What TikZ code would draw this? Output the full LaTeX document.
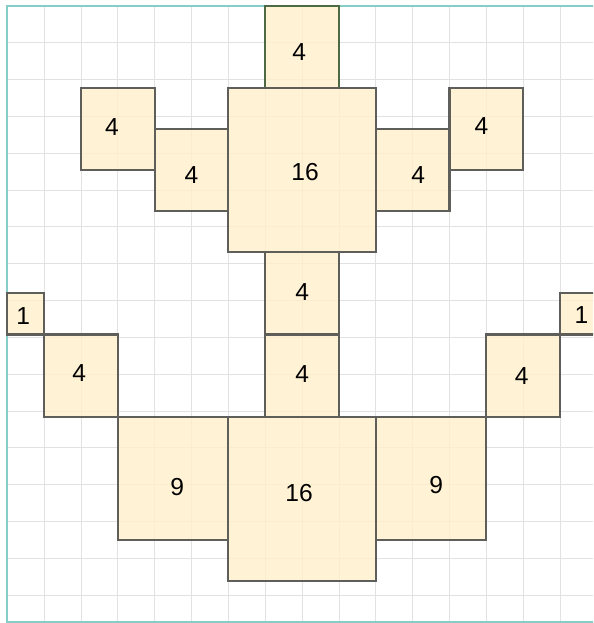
\documentclass[tikz,border=0pt]{standalone}
\usepackage{fontspec}
\setmainfont{Liberation Sans}
\definecolor{gridGray}{HTML}{E2E2E2}
\definecolor{frameTeal}{HTML}{86CCC7}
\definecolor{tileFill}{HTML}{FFEFCC}
\definecolor{tileEdge}{HTML}{5E5E5A}
\definecolor{tileGreen}{HTML}{4E6A45}
\tikzset{
  grid line/.style={draw=gridGray,line width=0.7pt},
  frame line/.style={draw=frameTeal,line width=1.4pt},
  tile/.style={fill=tileFill,fill opacity=0.82,draw=tileEdge,
    line width=1.6pt},
  tile label/.style={font=\fontsize{19}{21}\selectfont,inner sep=0pt}
}
\begin{document}
\begin{tikzpicture}[x=1cm,y=1.1153cm]
  \useasboundingbox (-0.198,0.139) rectangle (15.895,-15.019);
  \clip (-0.198,0.139) rectangle (15.895,-15.019);
  % background grid
  \draw[grid line] (0,0) grid (16,-15);
  \draw[frame line] (0,0) rectangle (16,-15);
  % head tile
  \draw[tile,draw=tileGreen] (7,0) rectangle ++(2,-2);
  \node[tile label] (head) at (7.92,-1.12) {4};
  % tiles: column/row/side/label/name/dx/dy
  \foreach \c/\r/\s/\n/\nm/\dx/\dy in {
      6/2/4/16/bodytop/0.08/-0.05,
      2/2/2/4/armlo/-0.16/0.06,
      4/3/2/4/armli/0/-0.11,
      10/3/2/4/armri/0.15/-0.11,
      12/2/2/4/armro/-0.13/0.07,
      7/6/2/4/neckup/0/0.04,
      7/8/2/4/necklo/0/0.05,
      0/7/1/1/tipl/-0.07/-0.04,
      1/8/2/4/hornl/-0.05/0.07,
      13/8/2/4/hornr/-0.04/0,
      15/7/1/1/tipr/0.08/-0.02,
      3/10/3/9/basel/0.11/-0.21,
      6/10/4/16/basec/-0.08/0.15,
      10/10/3/9/baser/0.14/-0.17}
  {
    \draw[tile] (\c,-\r) rectangle ++(\s,-\s);
    \node[tile label] (\nm) at ({\c+\s/2+\dx},{-\r-\s/2+\dy}) {\n};
  }
\end{tikzpicture}
\end{document}
